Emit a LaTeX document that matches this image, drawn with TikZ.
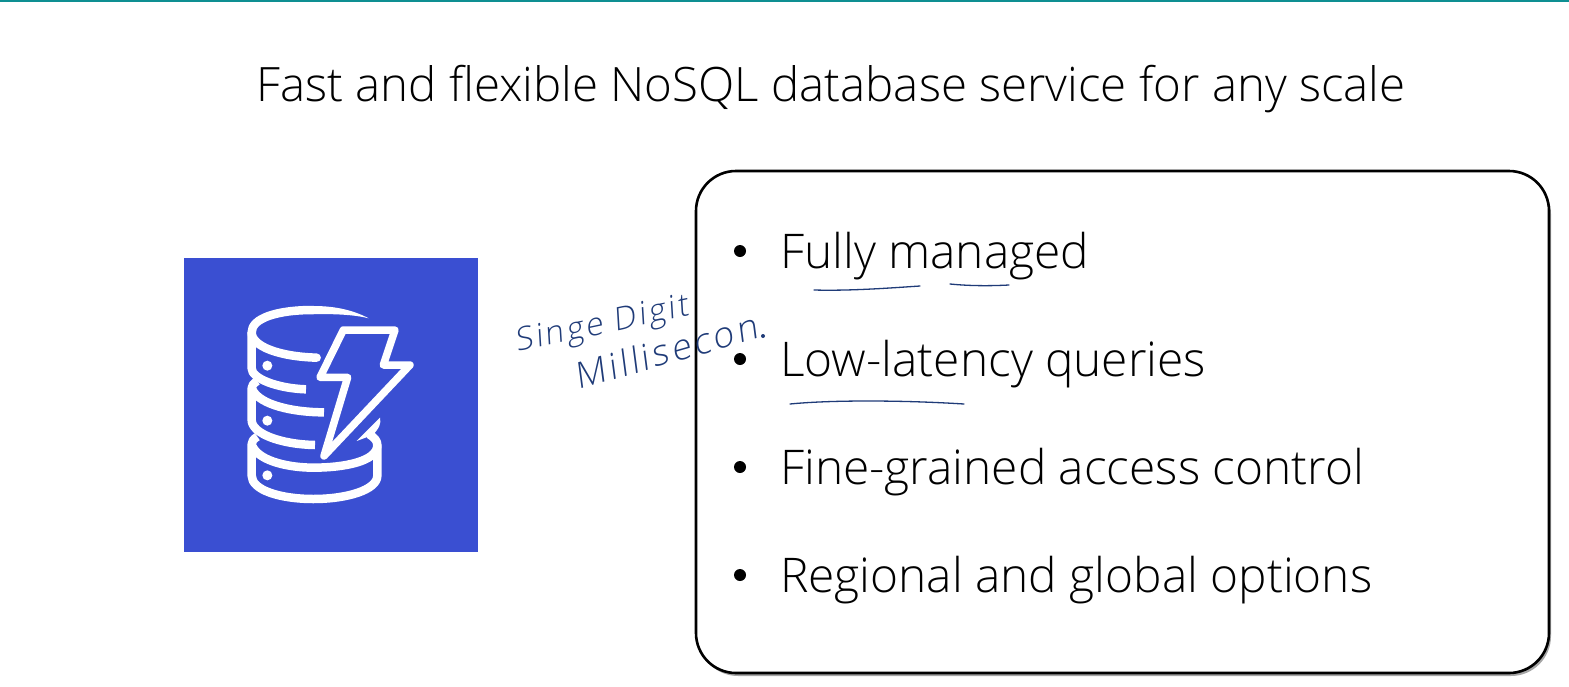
\documentclass[tikz,border=0pt]{standalone}
\usepackage{fontspec}
\setmainfont{Open Sans Light}
\newfontfamily\handfont[AutoFakeSlant=0.15,LetterSpace=9]{Open Sans Light}
\usetikzlibrary{shadows}
\definecolor{topteal}{HTML}{0E8F92}
\definecolor{iconblue}{HTML}{3A4FD2}
\definecolor{penblue}{HTML}{1F3B78}
\tikzset{
  titletext/.style={inner sep=0pt,anchor=base,font=\fontsize{47.4}{56}\selectfont},
  itemtext/.style={inner sep=0pt,anchor=base west,font=\fontsize{47.8}{56}\selectfont},
  bulletdot/.style={circle,fill=black,inner sep=0pt,minimum size=12pt},
  handtext/.style={inner sep=0pt,anchor=base west,text=penblue},
  penline/.style={draw=penblue,line width=1.3pt,line cap=round},
  iconline/.style={draw=white,line width=8.5pt,line cap=round,line join=round}
}
\begin{document}
\begin{tikzpicture}[x=1pt,y=-1pt]
  \useasboundingbox (0,0) rectangle (1569,686);
  \node[fill=topteal,inner sep=0pt,minimum width=1569pt,minimum height=2pt,anchor=north west] (topbar) at (0,0){};

  \node[titletext] (title) at (831,101){Fast and flexible NoSQL database service for any scale};

  % icon
  \node[fill=iconblue,inner sep=0pt,minimum size=293.5pt,anchor=north west] (icon) at (184,258){};
  \begin{scope}[shift={(180,255)},scale=1/3]
    \fill[white] (566,190) .. controls (510,160) and (450,153) .. (400,153) -- (400,177) .. controls (460,177) and (520,178) .. (566,190) -- cycle;
    \draw[iconline] (400,165) .. controls (290,165) and (215,190) .. (215,232) .. controls (215,275) and (300,305) .. (410,308);
    \draw[iconline,line cap=butt] (215,232) -- (215,340) .. controls (215,370) and (290,400) .. (378,403);
    \draw[iconline,line cap=butt] (232,378) .. controls (220,385) and (215,392) .. (215,400) -- (215,495) .. controls (215,535) and (300,568) .. (405,570);
    \draw[iconline,line cap=butt] (218,405) .. controls (240,450) and (340,472) .. (432,472);
    \draw[iconline,line cap=butt] (232,545) .. controls (220,552) and (215,560) .. (215,568) -- (215,662) .. controls (215,705) and (300,732) .. (400,732) .. controls (500,732) and (592,705) .. (592,662) -- (592,570) .. controls (592,558) and (584,548) .. (568,538);
    \draw[iconline,line cap=butt] (218,575) .. controls (240,620) and (330,638) .. (400,638) .. controls (490,638) and (592,620) .. (592,570);
    \fill[white] (600,488) .. controls (604,505) and (598,520) .. (578,540) -- (530,558) -- cycle;
    \draw[iconline,line width=7.5pt] (490,225) -- (645,225) -- (610,330) -- (690,330) -- (432,603) -- (503,367) -- (420,367) -- cycle;
    \node[circle,fill=white,inner sep=0pt,minimum size=10pt] (dot1) at (262,332){};
    \node[circle,fill=white,inner sep=0pt,minimum size=10pt] (dot2) at (262,497){};
    \node[circle,fill=white,inner sep=0pt,minimum size=10pt] (dot3) at (262,661){};
  \end{scope}

  % box with the list
  \node[draw,line width=2.6pt,rounded corners=40pt,inner sep=0pt,minimum width=853pt,minimum height=502pt,fill=white,
        drop shadow={shadow xshift=2pt,shadow yshift=-3pt,fill=black,opacity=.35}] (box) at (1122.5,422){};

  \node[bulletdot] (b1) at (740,251){};
  \node[bulletdot] (b2) at (740,359){};
  \node[bulletdot] (b3) at (740,467){};
  \node[bulletdot] (b4) at (740,575){};
  \node[itemtext] (item1) at (780,268){Fully managed};
  \node[itemtext] (item2) at (780,376){Low-latency queries};
  \node[itemtext] (item3) at (780,484){Fine-grained access control};
  \node[itemtext] (item4) at (780,592){Regional and global options};

  % pen marks
  \draw[penline] (814,290) .. controls (850,291) and (890,288) .. (920,286);
  \draw[penline] (950,284) .. controls (970,286) and (990,286) .. (1009,285);
  \draw[penline] (790,404) .. controls (830,400) and (900,400) .. (964,404);
  \node[handtext,rotate=12,font=\handfont\itshape\fontsize{32}{36}\selectfont] (hand1) at (517,352){Singe Digit};
  \node[handtext,rotate=16,font=\handfont\itshape\fontsize{36}{40}\selectfont] (hand2) at (578,390){Millisecon};
  \node[circle,fill=penblue,inner sep=0pt,minimum size=4pt] (penmark) at (763,336){};
\end{tikzpicture}
\end{document}
